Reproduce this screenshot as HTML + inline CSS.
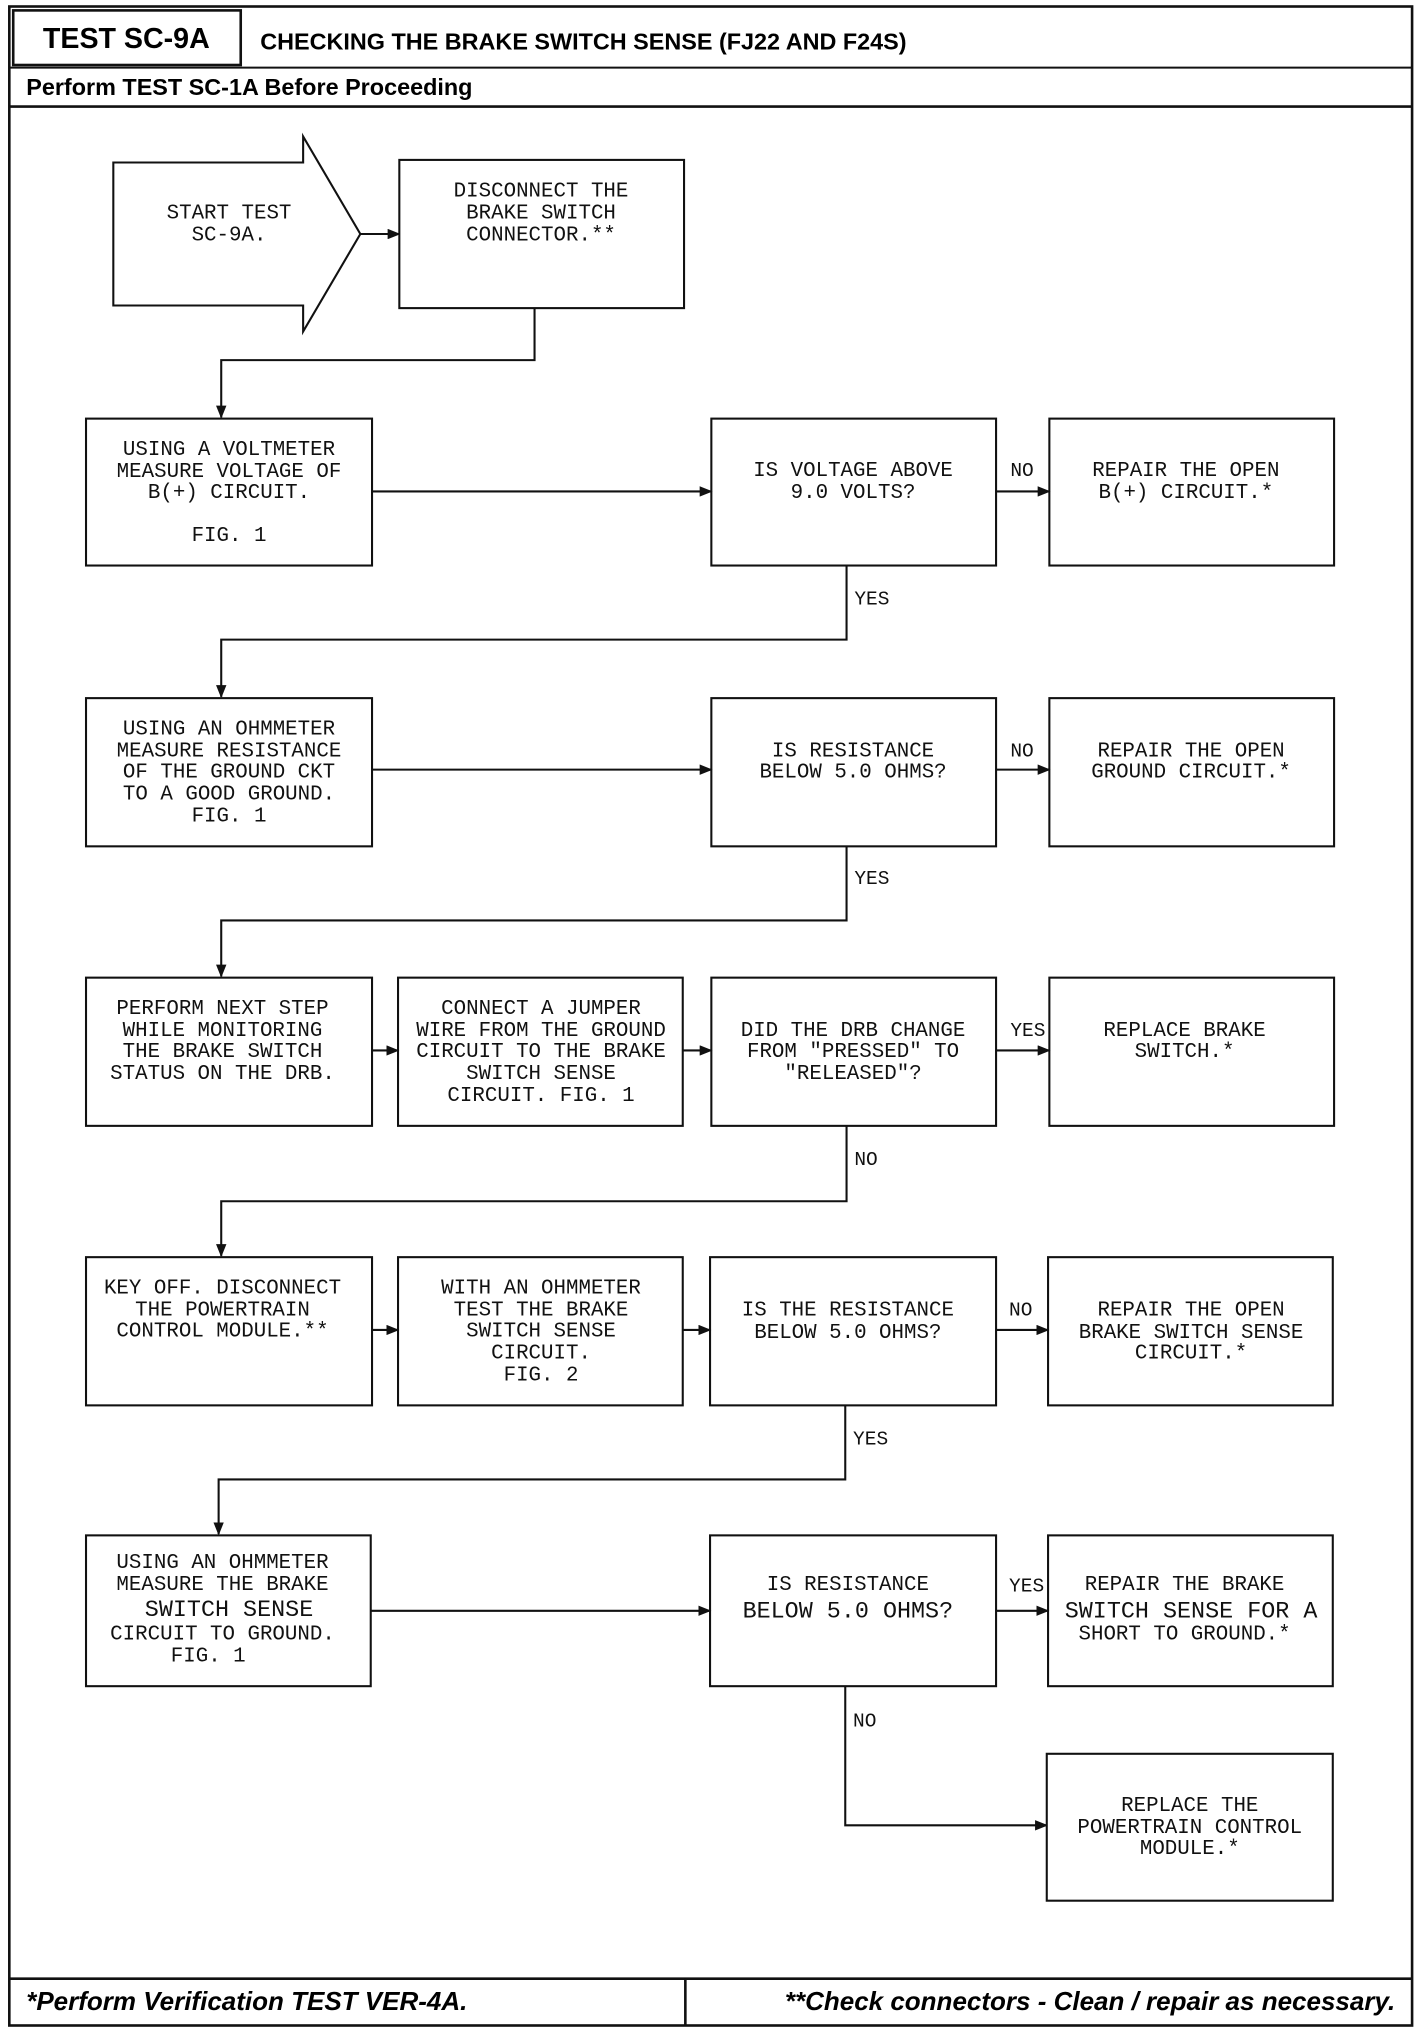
<!DOCTYPE html>
<html><head><meta charset="utf-8"><style>
html,body{margin:0;padding:0;background:#fff;}
svg{display:block;}
.m{font-family:"Liberation Mono",monospace;font-size:16px;fill:#111;text-anchor:middle;}
.l{font-family:"Liberation Mono",monospace;font-size:15px;fill:#111;}
.b{fill:#fff;stroke:#111;stroke-width:1.6;}
.c{fill:none;stroke:#111;stroke-width:1.6;}
</style></head><body>
<svg width="1424" height="2032" viewBox="0 0 1095 1563" xmlns="http://www.w3.org/2000/svg">
<defs><marker id="a" markerWidth="10" markerHeight="8" refX="9" refY="4" orient="auto" markerUnits="userSpaceOnUse"><path d="M0,0 L10,4 L0,8 Z" fill="#111"/></marker></defs>
<rect x="7" y="5" width="1079" height="1553" fill="none" stroke="#111" stroke-width="2"/>
<rect x="10" y="8" width="175" height="42" fill="none" stroke="#111" stroke-width="2"/>
<line x1="7" y1="52" x2="1086" y2="52" stroke="#111" stroke-width="1.5"/>
<line x1="7" y1="82" x2="1086" y2="82" stroke="#111" stroke-width="2"/>
<text x="97" y="37" style="font-family:'Liberation Sans',sans-serif;font-weight:bold;font-size:22px;text-anchor:middle">TEST SC-9A</text>
<text x="200" y="38" style="font-family:'Liberation Sans',sans-serif;font-weight:bold;font-size:18px">CHECKING THE BRAKE SWITCH SENSE (FJ22 AND F24S)</text>
<text x="20" y="73" style="font-family:'Liberation Sans',sans-serif;font-weight:bold;font-size:18px">Perform TEST SC-1A Before Proceeding</text>
<line x1="7" y1="1522" x2="1086" y2="1522" stroke="#111" stroke-width="2"/>
<line x1="527" y1="1522" x2="527" y2="1558" stroke="#111" stroke-width="2"/>
<text x="20" y="1546" style="font-family:'Liberation Sans',sans-serif;font-weight:bold;font-style:italic;font-size:20px">*Perform Verification TEST VER-4A.</text>
<text x="1073" y="1546" style="font-family:'Liberation Sans',sans-serif;font-weight:bold;font-style:italic;font-size:20px;text-anchor:end">**Check connectors - Clean / repair as necessary.</text>

<!-- start arrow -->
<polygon class="b" points="87,125 233,125 233,105 277,180 233,255 233,235 87,235"/>
<text class="m" x="176" y="168">START TEST</text><text class="m" x="176" y="185">SC-9A.</text>
<line class="c" x1="277" y1="180" x2="307" y2="180" marker-end="url(#a)"/>
<rect class="b" x="307" y="123" width="219" height="114"/>
<text class="m" x="416" y="151">DISCONNECT THE</text><text class="m" x="416" y="168">BRAKE SWITCH</text><text class="m" x="416" y="185">CONNECTOR.**</text>
<polyline class="c" points="411,237 411,277 170,277 170,321" marker-end="url(#a)"/>

<!-- row2 -->
<rect class="b" x="66" y="322" width="220" height="113"/>
<rect class="b" x="547" y="322" width="219" height="113"/>
<rect class="b" x="807" y="322" width="219" height="113"/>
<text class="m" x="176" y="350">USING A VOLTMETER</text><text class="m" x="176" y="367">MEASURE VOLTAGE OF</text><text class="m" x="176" y="383">B(+) CIRCUIT.</text><text class="m" x="176" y="416">FIG. 1</text>
<text class="m" x="656" y="366">IS VOLTAGE ABOVE</text><text class="m" x="656" y="383">9.0 VOLTS?</text>
<text class="m" x="912" y="366">REPAIR THE OPEN</text><text class="m" x="912" y="383">B(+) CIRCUIT.*</text>
<line class="c" x1="286" y1="378" x2="547" y2="378" marker-end="url(#a)"/>
<line class="c" x1="766" y1="378" x2="807" y2="378" marker-end="url(#a)"/>
<text class="l" x="777" y="366">NO</text>
<polyline class="c" points="651,435 651,492 170,492 170,536" marker-end="url(#a)"/>
<text class="l" x="657" y="465">YES</text>

<!-- row3 -->
<rect class="b" x="66" y="537" width="220" height="114"/>
<rect class="b" x="547" y="537" width="219" height="114"/>
<rect class="b" x="807" y="537" width="219" height="114"/>
<text class="m" x="176" y="565">USING AN OHMMETER</text><text class="m" x="176" y="582">MEASURE RESISTANCE</text><text class="m" x="176" y="598">OF THE GROUND CKT</text><text class="m" x="176" y="615">TO A GOOD GROUND.</text><text class="m" x="176" y="632">FIG. 1</text>
<text class="m" x="656" y="582">IS RESISTANCE</text><text class="m" x="656" y="598">BELOW 5.0 OHMS?</text>
<text class="m" x="916" y="582">REPAIR THE OPEN</text><text class="m" x="916" y="598">GROUND CIRCUIT.*</text>
<line class="c" x1="286" y1="592" x2="547" y2="592" marker-end="url(#a)"/>
<line class="c" x1="766" y1="592" x2="807" y2="592" marker-end="url(#a)"/>
<text class="l" x="777" y="582">NO</text>
<polyline class="c" points="651,651 651,708 170,708 170,751" marker-end="url(#a)"/>
<text class="l" x="657" y="680">YES</text>

<!-- row4 -->
<rect class="b" x="66" y="752" width="220" height="114"/>
<rect class="b" x="306" y="752" width="219" height="114"/>
<rect class="b" x="547" y="752" width="219" height="114"/>
<rect class="b" x="807" y="752" width="219" height="114"/>
<text class="m" x="171" y="780">PERFORM NEXT STEP</text><text class="m" x="171" y="797">WHILE MONITORING</text><text class="m" x="171" y="813">THE BRAKE SWITCH</text><text class="m" x="171" y="830">STATUS ON THE DRB.</text>
<text class="m" x="416" y="780">CONNECT A JUMPER</text><text class="m" x="416" y="797">WIRE FROM THE GROUND</text><text class="m" x="416" y="813">CIRCUIT TO THE BRAKE</text><text class="m" x="416" y="830">SWITCH SENSE</text><text class="m" x="416" y="847">CIRCUIT. FIG. 1</text>
<text class="m" x="656" y="797">DID THE DRB CHANGE</text><text class="m" x="656" y="813">FROM "PRESSED" TO</text><text class="m" x="656" y="830">"RELEASED"?</text>
<text class="m" x="911" y="797">REPLACE BRAKE</text><text class="m" x="911" y="813">SWITCH.*</text>
<line class="c" x1="286" y1="808" x2="306" y2="808" marker-end="url(#a)"/>
<line class="c" x1="525" y1="808" x2="547" y2="808" marker-end="url(#a)"/>
<line class="c" x1="766" y1="808" x2="807" y2="808" marker-end="url(#a)"/>
<text class="l" x="777" y="797">YES</text>
<polyline class="c" points="651,866 651,924 170,924 170,966" marker-end="url(#a)"/>
<text class="l" x="657" y="896">NO</text>

<!-- row5 -->
<rect class="b" x="66" y="967" width="220" height="114"/>
<rect class="b" x="306" y="967" width="219" height="114"/>
<rect class="b" x="546" y="967" width="220" height="114"/>
<rect class="b" x="806" y="967" width="219" height="114"/>
<text class="m" x="171" y="995">KEY OFF. DISCONNECT</text><text class="m" x="171" y="1012">THE POWERTRAIN</text><text class="m" x="171" y="1028">CONTROL MODULE.**</text>
<text class="m" x="416" y="995">WITH AN OHMMETER</text><text class="m" x="416" y="1012">TEST THE BRAKE</text><text class="m" x="416" y="1028">SWITCH SENSE</text><text class="m" x="416" y="1045">CIRCUIT.</text><text class="m" x="416" y="1062">FIG. 2</text>
<text class="m" x="652" y="1012">IS THE RESISTANCE</text><text class="m" x="652" y="1029">BELOW 5.0 OHMS?</text>
<text class="m" x="916" y="1012">REPAIR THE OPEN</text><text class="m" x="916" y="1029">BRAKE SWITCH SENSE</text><text class="m" x="916" y="1045">CIRCUIT.*</text>
<line class="c" x1="286" y1="1023" x2="306" y2="1023" marker-end="url(#a)"/>
<line class="c" x1="525" y1="1023" x2="546" y2="1023" marker-end="url(#a)"/>
<line class="c" x1="766" y1="1023" x2="806" y2="1023" marker-end="url(#a)"/>
<text class="l" x="776" y="1012">NO</text>
<polyline class="c" points="650,1081 650,1138 168,1138 168,1180" marker-end="url(#a)"/>
<text class="l" x="656" y="1111">YES</text>

<!-- row6 -->
<rect class="b" x="66" y="1181" width="219" height="116"/>
<rect class="b" x="546" y="1181" width="220" height="116"/>
<rect class="b" x="806" y="1181" width="219" height="116"/>
<text class="m" x="171" y="1206">USING AN OHMMETER</text><text class="m" x="171" y="1223">MEASURE THE BRAKE</text><text class="m" x="176" y="1243" style="font-size:18px">SWITCH SENSE</text><text class="m" x="171" y="1261">CIRCUIT TO GROUND.</text><text class="m" x="160" y="1278">FIG. 1</text>
<text class="m" x="652" y="1223">IS RESISTANCE</text><text class="m" x="652" y="1244" style="font-size:18px">BELOW 5.0 OHMS?</text>
<text class="m" x="911" y="1223">REPAIR THE BRAKE</text><text class="m" x="916" y="1244" style="font-size:18px">SWITCH SENSE FOR A</text><text class="m" x="911" y="1261">SHORT TO GROUND.*</text>
<line class="c" x1="285" y1="1239" x2="546" y2="1239" marker-end="url(#a)"/>
<line class="c" x1="766" y1="1239" x2="806" y2="1239" marker-end="url(#a)"/>
<text class="l" x="776" y="1224">YES</text>
<polyline class="c" points="650,1297 650,1404 805,1404" marker-end="url(#a)"/>
<text class="l" x="656" y="1328">NO</text>
<rect class="b" x="805" y="1349" width="220" height="113"/>
<text class="m" x="915" y="1393">REPLACE THE</text><text class="m" x="915" y="1410">POWERTRAIN CONTROL</text><text class="m" x="915" y="1426">MODULE.*</text>
</svg>
</body></html>
